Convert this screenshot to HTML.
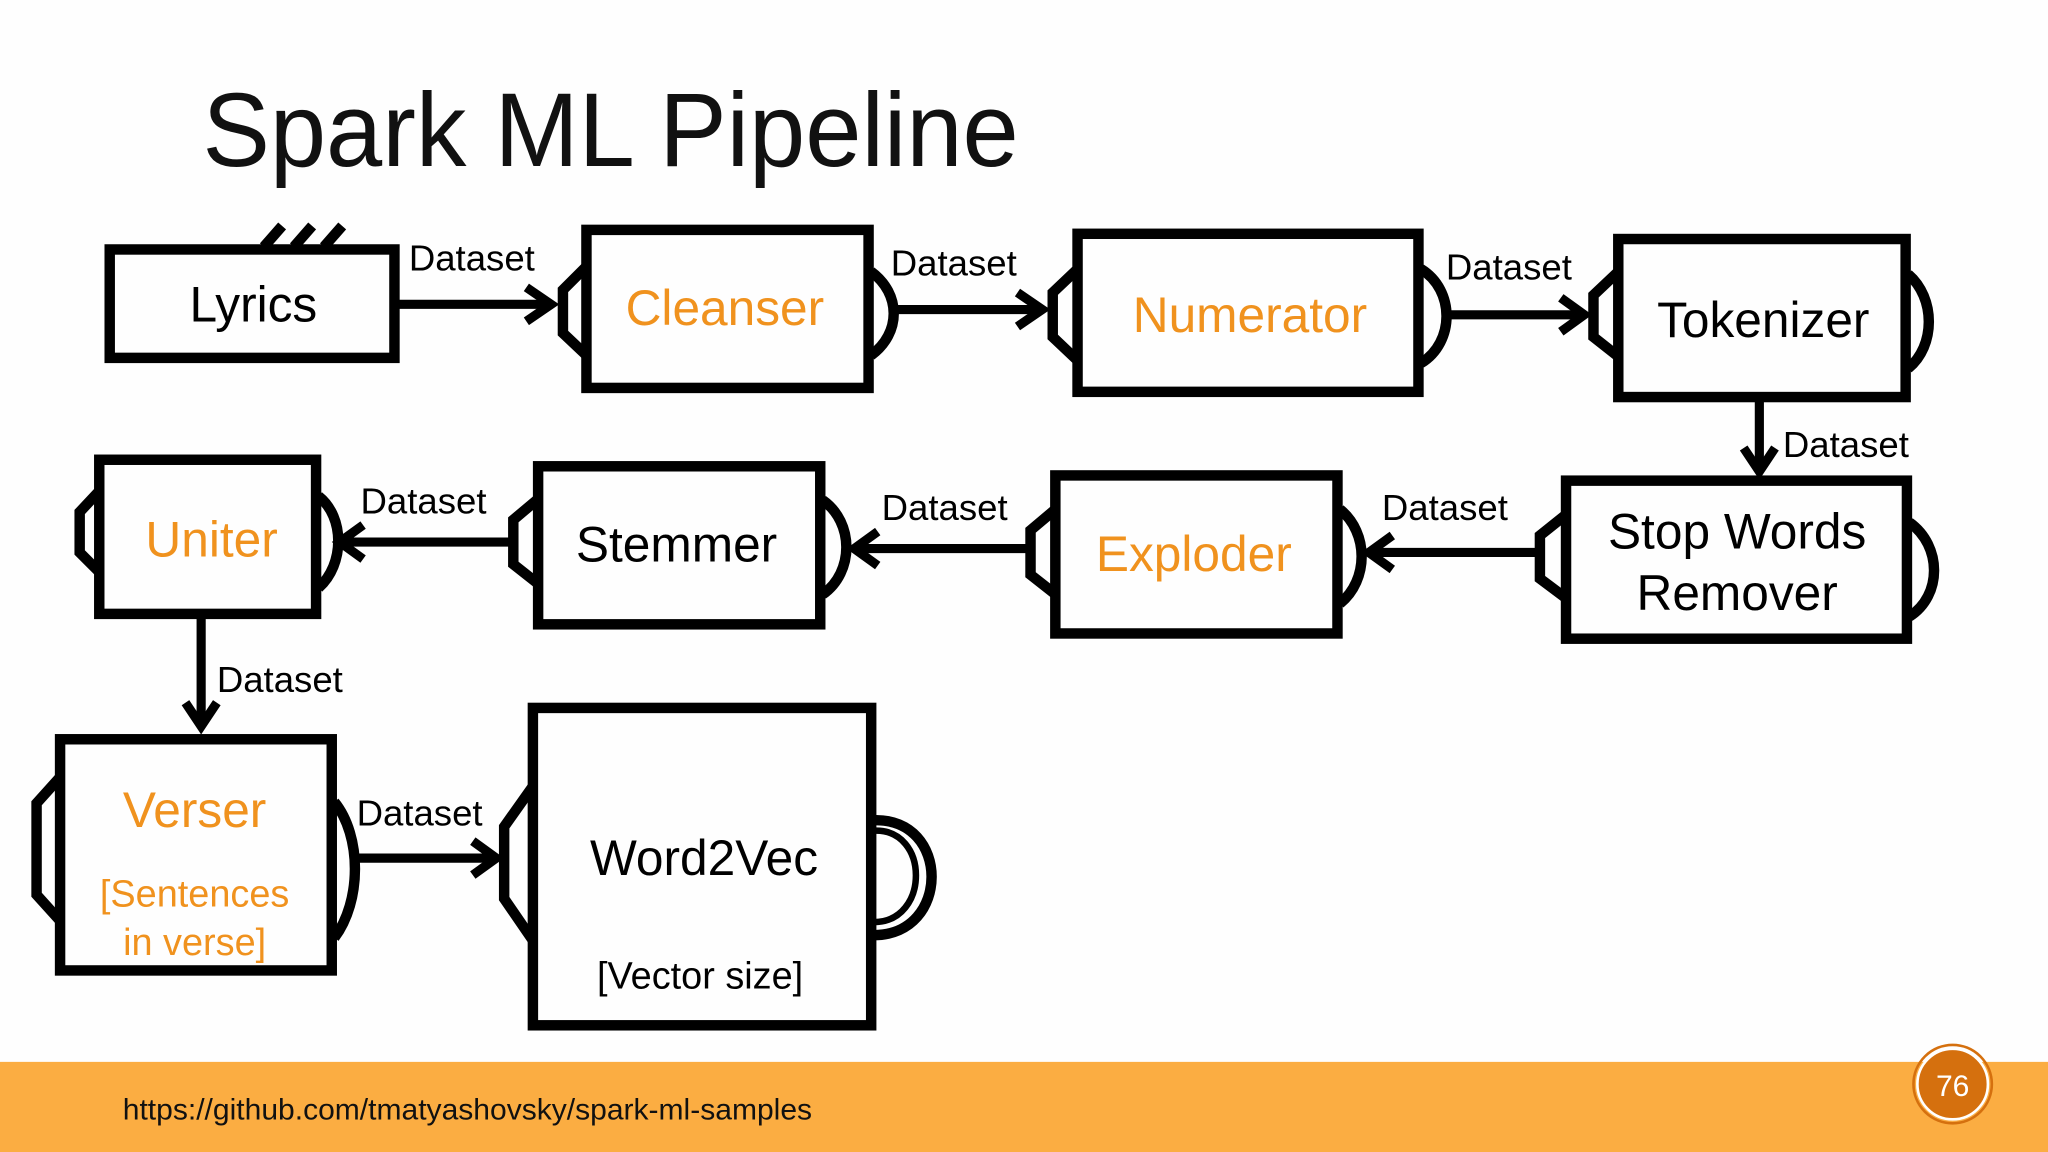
<!DOCTYPE html>
<html><head><meta charset="utf-8"><style>
html,body{margin:0;padding:0;background:#fff;}
svg{display:block;}
text{font-family:"Liberation Sans",sans-serif;}
</style></head><body>
<svg width="2048" height="1152" viewBox="0 0 1568 882" preserveAspectRatio="none" xmlns="http://www.w3.org/2000/svg">
<rect width="1568" height="882" fill="#fefefe"/>
<text x="155" y="127" font-size="80" fill="#111" textLength="625" lengthAdjust="spacingAndGlyphs">Spark ML Pipeline</text>

<g fill="none" stroke="#000" stroke-width="8" stroke-linejoin="miter">
<rect x="84" y="191" width="218" height="83"/>
<line x1="202" y1="189" x2="216" y2="173"/><line x1="225" y1="189" x2="239" y2="173"/><line x1="248" y1="189" x2="262" y2="173"/>
<rect x="449" y="176" width="216" height="121"/>
<path d="M449,204 L431,222 L431,255 L449,272" />
<path d="M667,208 C690,225 690,255 667,272"/>
<rect x="825" y="179" width="261" height="121"/>
<path d="M825,206 L806,224 L806,258 L825,276"/>
<path d="M1088,206 C1114,222 1114,262 1088,278"/>
<rect x="1239" y="183" width="220" height="121"/>
<path d="M1239,208 L1220,226 L1220,258 L1239,273"/>
<path d="M1461,210 C1482,228 1482,265 1461,282"/>
<rect x="1199" y="368" width="261" height="121"/>
<path d="M1199,394 L1179,410 L1179,443 L1199,458"/>
<path d="M1462,400 C1487,418 1487,456 1462,472"/>
<rect x="808" y="364" width="216" height="121"/>
<path d="M808,390 L789,406 L789,440 L808,455"/>
<path d="M1026,390 C1048,408 1048,444 1026,462"/>
<rect x="412" y="357" width="216" height="121"/>
<path d="M412,382 L393,398 L393,432 L412,447"/>
<path d="M630,383 C654,400 654,438 630,455"/>
<rect x="76" y="352" width="166" height="118"/>
<path d="M76,376 L61,392 L61,423 L76,438"/>
<path d="M244,380 C264,396 264,432 244,450"/>
<rect x="46" y="566" width="208" height="177"/>
<path d="M46,595 L28,615 L28,685 L46,705"/>
<path d="M256,614 C277,640 277,690 256,718"/>
<rect x="408" y="542" width="259" height="243"/>
<path d="M408,602 L386,633 L386,688 L408,720"/>
<path d="M669,628 C728,626 728,716 669,716"/>
<path d="M669,636 C712,634 712,706 669,706" stroke-width="5"/>
</g>

<g fill="none" stroke="#000" stroke-width="7">
<line x1="303" y1="233" x2="420" y2="233"/><polyline points="403,220 422,233 403,246"/>
<line x1="686" y1="237" x2="795" y2="237"/><polyline points="779,224 798,237 779,250"/>
<line x1="1110" y1="241" x2="1210" y2="241"/><polyline points="1195,228 1213,241 1195,254"/>
<line x1="1347" y1="306" x2="1347" y2="358"/><polyline points="1335,343 1347,361 1359,343"/>
<line x1="1177" y1="423" x2="1050" y2="423"/><polyline points="1066,410 1048,423 1066,436"/>
<line x1="787" y1="420" x2="656" y2="420"/><polyline points="672,407 654,420 672,433"/>
<line x1="391" y1="415" x2="262" y2="415"/><polyline points="278,402 260,415 278,428"/>
<line x1="154" y1="472" x2="154" y2="553"/><polyline points="142,538 154,556 166,538"/>
<line x1="273" y1="657" x2="378" y2="657"/><polyline points="362,644 380,657 362,670"/>
</g>

<g font-size="28" fill="#000">
<text x="313" y="207">Dataset</text>
<text x="682" y="211">Dataset</text>
<text x="1107" y="214">Dataset</text>
<text x="1365" y="350">Dataset</text>
<text x="1058" y="398">Dataset</text>
<text x="675" y="398">Dataset</text>
<text x="276" y="393">Dataset</text>
<text x="166" y="530">Dataset</text>
<text x="273" y="632">Dataset</text>
</g>

<g font-size="38" text-anchor="middle">
<text x="194" y="246" fill="#000">Lyrics</text>
<text x="555" y="249" fill="#F0921E">Cleanser</text>
<text x="957" y="254" fill="#F0921E">Numerator</text>
<text x="1350" y="258" fill="#000">Tokenizer</text>
<text x="1330" y="420" fill="#000">Stop Words</text>
<text x="1330" y="467" fill="#000">Remover</text>
<text x="914" y="437" fill="#F0921E">Exploder</text>
<text x="518" y="430" fill="#000">Stemmer</text>
<text x="162" y="426" fill="#F0921E">Uniter</text>
<text x="149" y="633" fill="#F0921E">Verser</text>
<text x="539" y="670" fill="#000">Word2Vec</text>
</g>
<g font-size="29" text-anchor="middle">
<text x="149" y="694" fill="#F0921E">[Sentences</text>
<text x="149" y="731" fill="#F0921E">in verse]</text>
<text x="536" y="757" fill="#000">[Vector size]</text>
</g>

<rect x="0" y="813" width="1568" height="69" fill="#FBAD42"/>
<text x="94" y="857" font-size="23" fill="#111">https://github.com/tmatyashovsky/spark-ml-samples</text>
<circle cx="1495" cy="830" r="27" fill="#D5700E" stroke="#fff" stroke-width="2"/>
<circle cx="1495" cy="830" r="30" fill="none" stroke="#D5700E" stroke-width="2"/>
<text x="1495" y="839" font-size="23" fill="#fff" text-anchor="middle">76</text>
</svg>
</body></html>
